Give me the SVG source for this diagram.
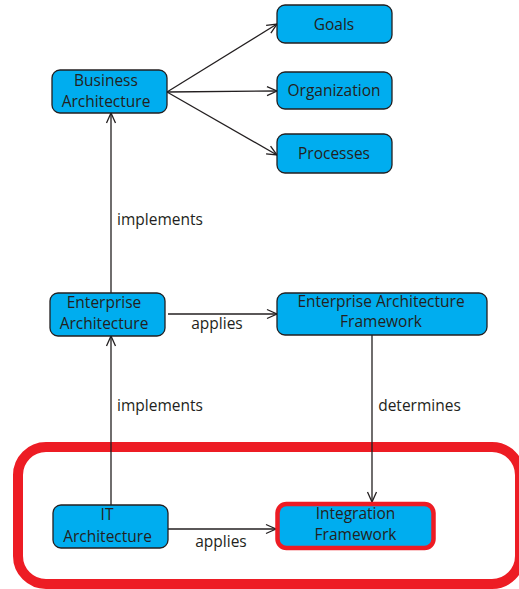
<svg xmlns="http://www.w3.org/2000/svg" width="519" height="589" viewBox="0 0 519 589">
  <defs>
    <marker id="arrow" viewBox="0 0 12 12" refX="11" refY="6" markerWidth="12" markerHeight="12" markerUnits="userSpaceOnUse" orient="auto">
      <path d="M1,1.5 L11,6 L1,10.5" fill="none" stroke="#231f20" stroke-width="1.3"/>
    </marker>
  </defs>
  <style>
    .box { fill: #00adef; stroke: #231f20; stroke-width: 1.3; }
    .hl { fill: #00adef; stroke: #ed1c24; stroke-width: 4.5; }
    .txt { font-family: "Open Sans", "Noto Sans", sans-serif; font-size: 15.5px; fill: #231f20; text-anchor: middle; }
    .edge { fill: none; stroke: #231f20; stroke-width: 1.3; marker-end: url(#arrow); }
  </style>
  <rect width="519" height="589" fill="#ffffff"/>

  <!-- highlighted region around the IT layer -->
  <rect id="scope" x="18" y="447" width="502" height="137" rx="28" fill="none" stroke="#ed1c24" stroke-width="10"/>

  <g id="connectors">
    <line class="edge" x1="167" y1="92" x2="277" y2="24"/>
    <line class="edge" x1="167" y1="92" x2="277" y2="91"/>
    <line class="edge" x1="167" y1="92" x2="277" y2="155"/>
    <line class="edge" x1="111" y1="293" x2="111" y2="113"/>
    <line class="edge" x1="111" y1="505" x2="111" y2="336"/>
    <line class="edge" x1="168" y1="314" x2="277" y2="314"/>
    <line class="edge" x1="372" y1="335" x2="372" y2="502"/>
    <line class="edge" x1="168" y1="529" x2="276" y2="529"/>
    <text class="txt" x="160" y="225">implements</text>
    <text class="txt" x="160" y="411">implements</text>
    <text class="txt" x="419.5" y="411">determines</text>
    <text class="txt" x="217" y="329">applies</text>
    <text class="txt" x="221" y="547">applies</text>
  </g>

  <g id="business-architecture">
    <rect class="box" x="52" y="70" width="115" height="43" rx="8"/>
    <text class="txt" x="106" y="85.5">Business</text>
    <text class="txt" x="106" y="106.5">Architecture</text>
  </g>
  <g id="goals">
    <rect class="box" x="277" y="5" width="115" height="38" rx="8"/>
    <text class="txt" x="334" y="30">Goals</text>
  </g>
  <g id="organization">
    <rect class="box" x="277" y="72" width="115" height="37" rx="8"/>
    <text class="txt" x="334" y="96">Organization</text>
  </g>
  <g id="processes">
    <rect class="box" x="277" y="134" width="115" height="39" rx="8"/>
    <text class="txt" x="334" y="159">Processes</text>
  </g>
  <g id="enterprise-architecture">
    <rect class="box" x="50" y="293" width="115" height="43" rx="8"/>
    <text class="txt" x="104" y="307.5">Enterprise</text>
    <text class="txt" x="104" y="329">Architecture</text>
  </g>
  <g id="enterprise-architecture-framework">
    <rect class="box" x="277" y="293" width="210" height="42" rx="8"/>
    <text class="txt" x="381" y="306.5">Enterprise Architecture</text>
    <text class="txt" x="381" y="327">Framework</text>
  </g>
  <g id="it-architecture">
    <rect class="box" x="53" y="505" width="115" height="43" rx="8"/>
    <text class="txt" x="107" y="520">IT</text>
    <text class="txt" x="107.5" y="541.5">Architecture</text>
  </g>
  <g id="integration-framework">
    <rect class="hl" x="277.5" y="504" width="156" height="44" rx="9"/>
    <text class="txt" x="355.5" y="519">Integration</text>
    <text class="txt" x="355.5" y="540">Framework</text>
  </g>
</svg>
